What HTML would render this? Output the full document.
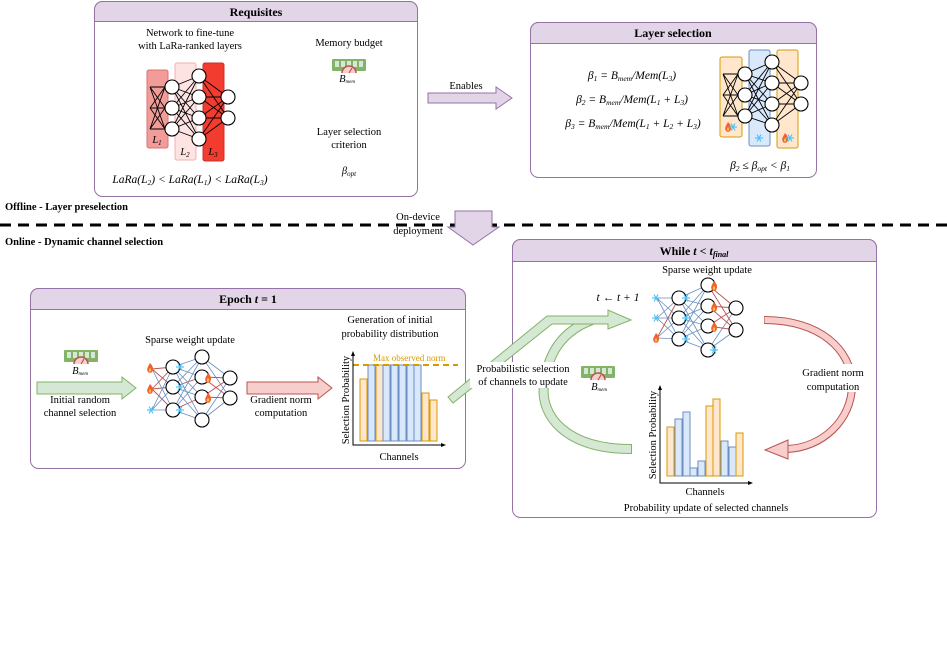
<!DOCTYPE html>
<html><head><meta charset="utf-8"><style>
body{margin:0;background:#fff;}
svg{display:block;font-family:"Liberation Serif",serif;}
.t{font-size:10.5px;fill:#000;text-anchor:middle;}
.h{font-size:12px;font-weight:bold;text-anchor:middle;}
.m{font-style:italic;}
.f{font-size:11.5px;}
.ln{stroke:#000;stroke-width:0.9;fill:none;}
.n{fill:#fff;stroke:#000;stroke-width:1.1;}
.bl{stroke:#6c8ebf;stroke-width:0.8;fill:none;}
.rl{stroke:#b85450;stroke-width:0.9;fill:none;}
.o{fill:#ffe6cc;stroke:#d79b00;stroke-width:1;}
.b{fill:#dae8fc;stroke:#6c8ebf;stroke-width:1;}
</style></head><body>
<svg width="947" height="659" viewBox="0 0 947 659" xmlns="http://www.w3.org/2000/svg">
<defs>
<g id="mem"><rect x="0" y="0" width="34" height="12" rx="1" fill="#82b366"/><rect x="3" y="2" width="4" height="6" fill="#d5e8d4"/><rect x="9" y="2" width="4" height="6" fill="#d5e8d4"/><rect x="15" y="2" width="4" height="6" fill="#d5e8d4"/><rect x="21" y="2" width="4" height="6" fill="#d5e8d4"/><rect x="27" y="2" width="4" height="6" fill="#d5e8d4"/><path d="M10,14 A7,7 0 0 1 24,14" fill="#f8cecc" stroke="#b85450" stroke-width="1.5"/><line x1="17" y1="14" x2="20" y2="9" stroke="#b85450" stroke-width="1.2"/></g>
<g id="fl"><path d="M0,-5 C3,-2 4,1 2,4 C1,5 -1,5 -2,4 C-4,1 -2,-1 0,-5Z" fill="#f06030"/><path d="M0,0 C1.5,1.5 1.5,3 0,4 C-1.5,3 -1.5,1.5 0,0Z" fill="#ffc040"/></g>
<g id="sn" stroke="#4fc3f7" stroke-width="1.2"><line x1="-4" y1="0" x2="4" y2="0"/><line x1="-2" y1="-3.5" x2="2" y2="3.5"/><line x1="-2" y1="3.5" x2="2" y2="-3.5"/></g>
</defs>

<!-- Requisites -->
<rect x="94.5" y="1.5" width="323" height="195" rx="8" fill="#fff" stroke="#9673a6"/>
<path d="M94.5,21.5 V9.5 A8,8 0 0 1 102.5,1.5 H409.5 A8,8 0 0 1 417.5,9.5 V21.5 Z" fill="#e1d5e7" stroke="#9673a6"/>
<text class="h" x="256" y="16">Requisites</text>
<text class="t" x="190" y="36">Network to fine-tune</text>
<text class="t" x="190" y="49">with LaRa-ranked layers</text>
<rect x="147" y="70" width="21" height="78" rx="2" fill="#f19c99" stroke="#e07070"/>
<rect x="175" y="63" width="21" height="97" rx="2" fill="#fde3e2" stroke="#f0b0b0"/>
<rect x="203" y="63" width="21" height="98" rx="2" fill="#f23c2f" stroke="#c83030"/>
<path class="ln" d="M150,87L165,87M150,87L165,108M150,87L165,129M150,108L165,87M150,108L165,108M150,108L165,129M150,129L165,87M150,129L165,108M150,129L165,129
M172,87L199,76M172,87L199,97M172,87L199,118M172,87L199,139M172,108L199,76M172,108L199,97M172,108L199,118M172,108L199,139M172,129L199,76M172,129L199,97M172,129L199,118M172,129L199,139
M199,76L228,97M199,76L228,118M199,97L228,97M199,97L228,118M199,118L228,97M199,118L228,118M199,139L228,97M199,139L228,118"/>
<circle class="n" cx="172" cy="87" r="7"/><circle class="n" cx="172" cy="108" r="7"/><circle class="n" cx="172" cy="129" r="7"/>
<circle class="n" cx="199" cy="76" r="7"/><circle class="n" cx="199" cy="97" r="7"/><circle class="n" cx="199" cy="118" r="7"/><circle class="n" cx="199" cy="139" r="7"/>
<circle class="n" cx="228" cy="97" r="7"/><circle class="n" cx="228" cy="118" r="7"/>
<text class="t m" x="157" y="143" font-size="10">L<tspan font-size="7" dy="2">1</tspan></text>
<text class="t m" x="185" y="155" font-size="10">L<tspan font-size="7" dy="2">2</tspan></text>
<text class="t m" x="213" y="155" font-size="10">L<tspan font-size="7" dy="2">3</tspan></text>
<text class="t" x="349" y="46">Memory budget</text>
<use href="#mem" x="332" y="59"/>
<text class="t m" x="347" y="82" font-size="8">B<tspan font-size="5" dy="1">mem</tspan></text>
<text class="t" x="349" y="135">Layer selection</text>
<text class="t" x="349" y="148">criterion</text>
<text class="t m" x="349" y="174">β<tspan font-size="7" dy="2">opt</tspan></text>
<text class="t m f" x="190" y="183">LaRa(L<tspan font-size="7.5" dy="2">2</tspan><tspan dy="-2">) &lt; LaRa(L</tspan><tspan font-size="7.5" dy="2">1</tspan><tspan dy="-2">) &lt; LaRa(L</tspan><tspan font-size="7.5" dy="2">3</tspan><tspan dy="-2">)</tspan></text>

<!-- Enables arrow -->
<polygon points="428,93 496,93 496,87 512,98 496,109 496,103 428,103" fill="#e1d5e7" stroke="#9673a6"/>
<text class="t" x="466" y="89">Enables</text>

<!-- Layer selection -->
<rect x="530.5" y="22.5" width="286" height="155" rx="8" fill="#fff" stroke="#9673a6"/>
<path d="M530.5,43.5 V30.5 A8,8 0 0 1 538.5,22.5 H808.5 A8,8 0 0 1 816.5,30.5 V43.5 Z" fill="#e1d5e7" stroke="#9673a6"/>
<text class="h" x="673" y="37">Layer selection</text>
<text class="t m f" x="632" y="79">β<tspan font-size="7.5" dy="2">1</tspan><tspan dy="-2"> = B</tspan><tspan font-size="7.5" dy="2">mem</tspan><tspan dy="-2">/Mem(L</tspan><tspan font-size="7.5" dy="2">3</tspan><tspan dy="-2">)</tspan></text>
<text class="t m f" x="632" y="103">β<tspan font-size="7.5" dy="2">2</tspan><tspan dy="-2"> = B</tspan><tspan font-size="7.5" dy="2">mem</tspan><tspan dy="-2">/Mem(L</tspan><tspan font-size="7.5" dy="2">1</tspan><tspan dy="-2"> + L</tspan><tspan font-size="7.5" dy="2">3</tspan><tspan dy="-2">)</tspan></text>
<text class="t m f" x="633" y="127">β<tspan font-size="7.5" dy="2">3</tspan><tspan dy="-2"> = B</tspan><tspan font-size="7.5" dy="2">mem</tspan><tspan dy="-2">/Mem(L</tspan><tspan font-size="7.5" dy="2">1</tspan><tspan dy="-2"> + L</tspan><tspan font-size="7.5" dy="2">2</tspan><tspan dy="-2"> + L</tspan><tspan font-size="7.5" dy="2">3</tspan><tspan dy="-2">)</tspan></text>
<rect x="720" y="57" width="22" height="80" rx="2" class="o"/>
<rect x="749" y="50" width="21" height="96" rx="2" class="b"/>
<rect x="777" y="50" width="21" height="98" rx="2" class="o"/>
<path class="ln" d="M723,74L738,74M723,74L738,95M723,74L738,116M723,95L738,74M723,95L738,95M723,95L738,116M723,116L738,74M723,116L738,95M723,116L738,116
M745,74L772,62M745,74L772,83M745,74L772,104M745,74L772,125M745,95L772,62M745,95L772,83M745,95L772,104M745,95L772,125M745,116L772,62M745,116L772,83M745,116L772,104M745,116L772,125
M772,62L801,83M772,62L801,104M772,83L801,83M772,83L801,104M772,104L801,83M772,104L801,104M772,125L801,83M772,125L801,104"/>
<circle class="n" cx="745" cy="74" r="7"/><circle class="n" cx="745" cy="95" r="7"/><circle class="n" cx="745" cy="116" r="7"/>
<circle class="n" cx="772" cy="62" r="7"/><circle class="n" cx="772" cy="83" r="7"/><circle class="n" cx="772" cy="104" r="7"/><circle class="n" cx="772" cy="125" r="7"/>
<circle class="n" cx="801" cy="83" r="7"/><circle class="n" cx="801" cy="104" r="7"/>
<use href="#fl" x="728" y="127"/><use href="#sn" x="733" y="127"/>
<use href="#sn" x="759" y="138"/>
<use href="#fl" x="785" y="138"/><use href="#sn" x="790" y="138"/>
<text class="t m f" x="760" y="169">β<tspan font-size="7.5" dy="2">2</tspan><tspan dy="-2"> ≤ β</tspan><tspan font-size="7.5" dy="2">opt</tspan><tspan dy="-2"> &lt; β</tspan><tspan font-size="7.5" dy="2">1</tspan></text>

<!-- separator -->
<text x="5" y="210" font-size="10.5" font-weight="bold">Offline - Layer preselection</text>
<line x1="0" y1="225" x2="947" y2="225" stroke="#000" stroke-width="3" stroke-dasharray="11,7"/>
<text x="5" y="245" font-size="10.5" font-weight="bold">Online - Dynamic channel selection</text>
<polygon points="455,211 492,211 492,227 499,227 473,245 448,227 455,227" fill="#e1d5e7" stroke="#9673a6"/>
<text class="t" x="418" y="220">On-device</text>
<text class="t" x="418" y="234">deployment</text>

<!-- Epoch -->
<rect x="30.5" y="288.5" width="435" height="180" rx="8" fill="#fff" stroke="#9673a6"/>
<path d="M30.5,309.5 V296.5 A8,8 0 0 1 38.5,288.5 H457.5 A8,8 0 0 1 465.5,296.5 V309.5 Z" fill="#e1d5e7" stroke="#9673a6"/>
<text class="h" x="248" y="303" font-weight="normal" font-size="12.5">Epoch <tspan font-style="italic">t</tspan> = 1</text>
<use href="#mem" x="64" y="350"/>
<text class="t m" x="80" y="374" font-size="8">B<tspan font-size="5" dy="1">mem</tspan></text>
<polygon points="37,382 122,382 122,377 136,388 122,399 122,394 37,394" fill="#d5e8d4" stroke="#82b366"/>
<text class="t" x="80" y="403">Initial random</text>
<text class="t" x="80" y="416">channel selection</text>
<text class="t" x="190" y="343">Sparse weight update</text>
<path class="rl" d="M152,369L173,367M152,369L173,387M152,389L173,367M152,389L173,387M152,389L173,410M173,387L202,377M173,410L202,397"/>
<path class="bl" d="M152,369L173,410M152,410L173,367M152,410L173,387M152,410L173,410M173,367L202,357M173,367L202,377M173,367L202,397M173,367L202,420M173,387L202,357M173,387L202,397M173,387L202,420M173,410L202,357M173,410L202,377M173,410L202,420M202,357L230,378M202,357L230,398M202,420L230,378M202,420L230,398"/>
<path class="rl" d="M202,377L230,378M202,377L230,398M202,397L230,378M202,397L230,398"/>
<circle class="n" cx="173" cy="367" r="7"/><circle class="n" cx="173" cy="387" r="7"/><circle class="n" cx="173" cy="410" r="7"/>
<circle class="n" cx="202" cy="357" r="7"/><circle class="n" cx="202" cy="377" r="7"/><circle class="n" cx="202" cy="397" r="7"/><circle class="n" cx="202" cy="420" r="7"/>
<circle class="n" cx="230" cy="378" r="7"/><circle class="n" cx="230" cy="398" r="7"/>
<use href="#fl" x="150" y="368"/><use href="#fl" x="150" y="389"/><use href="#sn" x="151" y="410"/>
<use href="#sn" x="180" y="367"/><use href="#sn" x="180" y="387"/><use href="#sn" x="180" y="410"/>
<use href="#fl" x="208" y="378"/><use href="#fl" x="208" y="398"/>
<polygon points="247,382 318,382 318,377 332,388 318,399 318,394 247,394" fill="#f8cecc" stroke="#b85450"/>
<text class="t" x="281" y="403">Gradient norm</text>
<text class="t" x="281" y="416">computation</text>
<text class="t" x="390" y="323">Generation of initial</text>
<text class="t" x="390" y="337">probability distribution</text>
<rect x="360" y="379" width="7" height="62" class="o"/>
<rect x="368" y="365" width="7" height="76" class="b"/>
<rect x="376" y="365" width="7" height="76" class="o"/>
<rect x="383" y="365" width="7" height="76" class="b"/>
<rect x="391" y="365" width="7" height="76" class="b"/>
<rect x="399" y="365" width="7" height="76" class="b"/>
<rect x="407" y="365" width="7" height="76" class="b"/>
<rect x="414" y="365" width="7" height="76" class="b"/>
<rect x="422" y="393" width="7" height="48" class="o"/>
<rect x="430" y="400" width="7" height="41" class="o"/>
<line x1="353" y1="365" x2="458" y2="365" stroke="#d79b00" stroke-width="2" stroke-dasharray="6,4"/>
<text x="373" y="361" font-size="9" fill="#d79b00">Max observed norm</text>
<path d="M353,354V445H443" fill="none" stroke="#000"/>
<path d="M351,356L353,351L355,356ZM441,443L446,445L441,447Z" fill="#000"/>
<text class="t" font-size="9.5" transform="translate(349,400) rotate(-90)">Selection Probability</text>
<text class="t" x="399" y="460" font-size="9.5">Channels</text>

<!-- While -->
<rect x="512.5" y="239.5" width="364" height="278" rx="8" fill="#fff" stroke="#9673a6"/>
<path d="M512.5,261.5 V247.5 A8,8 0 0 1 520.5,239.5 H868.5 A8,8 0 0 1 876.5,247.5 V261.5 Z" fill="#e1d5e7" stroke="#9673a6"/>
<text class="h" x="694" y="255" font-weight="normal" font-size="12.5">While <tspan font-style="italic">t</tspan> &lt; <tspan font-style="italic">t</tspan><tspan font-size="8" font-style="italic" dy="2">final</tspan></text>
<text class="t" x="707" y="273">Sparse weight update</text>
<text class="t m f" x="618" y="301">t ← t + 1</text>
<path class="bl" d="M657,298L679,298M657,298L679,318M657,298L679,339M657,318L679,298M657,318L679,318M657,318L679,339M657,338L679,318M657,338L679,339M679,298L708,285M679,298L708,306M679,298L708,326M679,298L708,350M679,318L708,285M679,318L708,306M679,318L708,326M679,318L708,350M679,339L708,285M679,339L708,306M679,339L708,326M679,339L708,350M708,350L736,308M708,350L736,330"/>
<path class="rl" d="M657,338L679,298M708,285L736,308M708,285L736,330M708,306L736,308M708,306L736,330M708,326L736,308M708,326L736,330"/>
<circle class="n" cx="679" cy="298" r="7"/><circle class="n" cx="679" cy="318" r="7"/><circle class="n" cx="679" cy="339" r="7"/>
<circle class="n" cx="708" cy="285" r="7"/><circle class="n" cx="708" cy="306" r="7"/><circle class="n" cx="708" cy="326" r="7"/><circle class="n" cx="708" cy="350" r="7"/>
<circle class="n" cx="736" cy="308" r="7"/><circle class="n" cx="736" cy="330" r="7"/>
<use href="#sn" x="656" y="298"/><use href="#sn" x="656" y="318"/><use href="#fl" x="656" y="338"/>
<use href="#sn" x="686" y="298"/><use href="#sn" x="686" y="318"/><use href="#sn" x="686" y="339"/>
<use href="#fl" x="714" y="286"/><use href="#fl" x="714" y="307"/><use href="#fl" x="714" y="327"/><use href="#sn" x="714" y="350"/>
<!-- green curved arrow -->
<path d="M631,449 C565,449 540,415 544,385 C548,350 565,330 592,320" fill="none" stroke="#82b366" stroke-width="10"/>
<path d="M631,449 C565,449 540,415 544,385 C548,350 565,330 592,320" fill="none" stroke="#d5e8d4" stroke-width="8"/>
<line x1="631.5" y1="444" x2="631.5" y2="454" stroke="#82b366"/>
<!-- green diagonal arrow -->
<polygon points="448,397 547,316 608,316 608,310 631,320 608,329 608,324 552,324 453,403" fill="#d5e8d4" stroke="#82b366"/>
<rect x="470" y="362" width="105" height="26" fill="#fff"/>
<text class="t" x="523" y="372">Probabilistic selection</text>
<text class="t" x="523" y="385">of channels to update</text>
<use href="#mem" x="581" y="366"/>
<text class="t m" x="599" y="390" font-size="8">B<tspan font-size="5" dy="1">mem</tspan></text>
<!-- red curved arrow -->
<path d="M764,320 C820,320 852,350 852,385 C852,420 822,448 787,449" fill="none" stroke="#b85450" stroke-width="8"/>
<path d="M764.5,320 C820,320 852,350 852,385 C852,420 822,448 786,449" fill="none" stroke="#f8cecc" stroke-width="6"/>
<polygon points="788,440 765,450 788,459" fill="#f8cecc" stroke="#b85450"/>
<rect x="800" y="364" width="66" height="28" fill="#fff"/>
<text class="t" x="833" y="376">Gradient norm</text>
<text class="t" x="833" y="390">computation</text>
<rect x="667" y="427" width="7" height="49" class="o"/>
<rect x="675" y="419" width="7" height="57" class="b"/>
<rect x="683" y="412" width="7" height="64" class="b"/>
<rect x="690" y="468" width="7" height="8" class="b"/>
<rect x="698" y="461" width="7" height="15" class="b"/>
<rect x="706" y="406" width="7" height="70" class="o"/>
<rect x="713" y="399" width="7" height="77" class="o"/>
<rect x="721" y="441" width="7" height="35" class="b"/>
<rect x="729" y="447" width="7" height="29" class="b"/>
<rect x="736" y="433" width="7" height="43" class="o"/>
<path d="M660,388V483H750" fill="none" stroke="#000"/>
<path d="M658,390L660,385L662,390ZM748,481L753,483L748,485Z" fill="#000"/>
<text class="t" font-size="9.5" transform="translate(656,435) rotate(-90)">Selection Probability</text>
<text class="t" x="705" y="495" font-size="9.5">Channels</text>
<text class="t" x="706" y="511">Probability update of selected channels</text>
</svg>
</body></html>
